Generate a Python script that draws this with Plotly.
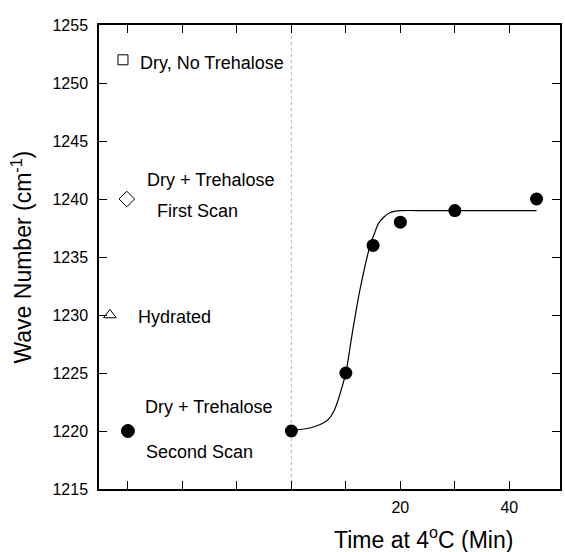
import plotly.graph_objects as go

# ---- data ----
time_min = [0, 10, 15, 20, 30, 45]
wave_second_scan = [1220, 1225, 1236, 1238, 1239, 1240]

# fitted curve, points
fit_time = [0, 2, 3.7, 5.5, 6.8, 7.8, 8.6, 9.3, 10, 11.1, 12.6, 14.4, 15.3, 16, 17, 17.8, 19, 20.2, 25, 35, 45]
fit_wave = [1220.1, 1220.15, 1220.3, 1220.6, 1221.0, 1221.7, 1222.7, 1223.8, 1225, 1228.2, 1232.2,
            1235.9, 1237.1, 1237.9, 1238.45, 1238.75, 1238.95, 1239, 1239, 1239, 1239]

# reference samples shown at the left of the panel
ref_names = ["Dry, No Trehalose", "Dry + Trehalose First Scan", "Hydrated", "Dry + Trehalose Second Scan"]
ref_x = [-30.9, -30.2, -33.3, -30]
ref_wave = [1252, 1240, 1230, 1220]

y_ticks = [1215, 1220, 1225, 1230, 1235, 1240, 1245, 1250, 1255]
x_tickvals = [-30, -20, -10, 0, 10, 20, 30, 40]
x_ticktext = ["", "", "", "", "", "20", "", "40"]

FONT = "Liberation Sans, Arial, sans-serif"

fig = go.Figure()

# faint dotted vertical guide at t = 0
fig.add_trace(go.Scatter(x=[0, 0], y=[1215, 1255], mode="lines",
                         line=dict(color="#b8b8b8", width=1, dash="dot"),
                         showlegend=False, hoverinfo="skip"))

fig.add_trace(go.Scatter(x=fit_time, y=fit_wave, mode="lines",
                         line=dict(color="black", width=1.2, shape="spline", smoothing=0.8),
                         showlegend=False))

fig.add_trace(go.Scatter(x=time_min, y=wave_second_scan, mode="markers",
                         marker=dict(symbol="circle", size=13, color="black"),
                         showlegend=False))

symbols = ["square-open", "diamond-open", "triangle-up-open", "circle"]
sizes = [10, 12, 11, 13]
for i in range(len(ref_names)):
    fig.add_trace(go.Scatter(x=[ref_x[i]], y=[ref_wave[i]], mode="markers",
                             name=ref_names[i],
                             marker=dict(symbol=symbols[i], size=sizes[i], color="black",
                                         line=dict(color="black", width=1)),
                             showlegend=False))

ann_font = dict(family=FONT, size=18, color="black")
labels = [
    ("Dry, No Trehalose", -28.2, 1251.7),
    ("Dry + Trehalose", -26.9, 1241.6),
    ("First Scan", -25.1, 1239.0),
    ("Hydrated", -28.6, 1229.8),
    ("Dry + Trehalose", -27.3, 1222.1),
    ("Second Scan", -27.1, 1218.2),
]
for txt, x, y in labels:
    fig.add_annotation(x=x, y=y, text=txt, showarrow=False, xanchor="left",
                       yanchor="middle", font=ann_font)

# axis titles
fig.add_annotation(xref="paper", yref="paper", x=0.704, y=-0.106,
                   text="Time at 4<sup>o</sup>C (Min)", showarrow=False,
                   xanchor="center", yanchor="middle",
                   font=dict(family=FONT, size=23, color="black"))
fig.add_annotation(xref="paper", yref="paper", x=-0.168, y=0.5,
                   text="Wave Number (cm<sup>-1</sup>)", showarrow=False,
                   textangle=-90, xanchor="center", yanchor="middle",
                   font=dict(family=FONT, size=23, color="black"))

fig.update_layout(
    width=565, height=552,
    margin=dict(l=99, r=3, t=25, b=63),
    paper_bgcolor="white", plot_bgcolor="white",
    font=dict(family=FONT, color="black"),
    showlegend=False,
)
fig.update_xaxes(range=[-35.3, 49.3], tickvals=x_tickvals, ticktext=x_ticktext,
                 ticks="inside", ticklen=8, tickcolor="black", tickwidth=1,
                 showline=True, linecolor="black", linewidth=1.5, mirror="ticks",
                 showgrid=False, zeroline=False,
                 tickfont=dict(family=FONT, size=16, color="black"),
                 ticklabelstandoff=3)
fig.update_yaxes(range=[1215, 1255], tickvals=y_ticks,
                 ticks="inside", ticklen=8, tickcolor="black", tickwidth=1,
                 showline=True, linecolor="black", linewidth=1.5, mirror="ticks",
                 showgrid=False, zeroline=False,
                 tickfont=dict(family=FONT, size=16, color="black"),
                 ticklabelstandoff=6)

fig.write_html("out.html", config={"displayModeBar": False},
               post_script="document.body.style.margin='0';")
